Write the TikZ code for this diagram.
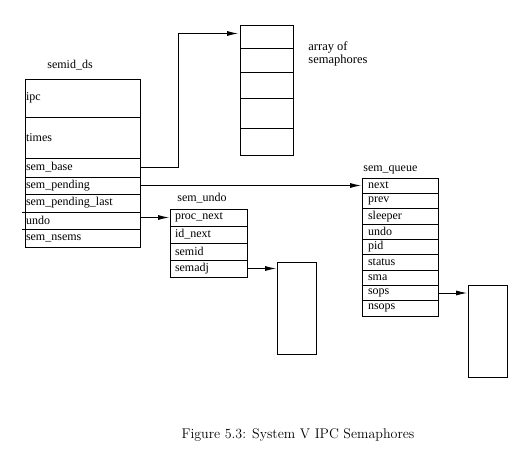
\documentclass[tikz,border=0pt]{standalone}
\usepackage{fontspec}
\newfontfamily\labelfont{Liberation Serif}
\usetikzlibrary{arrows.meta}

\tikzset{
  field/.style={draw, anchor=north west, inner ysep=0pt, outer sep=0pt, align=left,
    font=\labelfont\fontsize{12}{12}\selectfont},
  dsfield/.style={field, inner xsep=1pt, minimum width=115pt, text width=113pt},
  undofield/.style={field, inner xsep=5pt, minimum width=77pt, text width=67pt, minimum height=17pt},
  queuefield/.style={field, inner xsep=6pt, minimum width=76pt, text width=64pt, minimum height=15.33pt},
  cell/.style={draw, anchor=north west, inner sep=0pt, outer sep=0pt},
  title/.style={anchor=west, inner sep=0pt, font=\labelfont\fontsize{12}{12}\selectfont},
  >={Latex[length=11pt,width=5pt]}
}

\begin{document}
\begin{tikzpicture}[x=1pt, y=-1pt, line width=0.8pt]
  \useasboundingbox (0,0) rectangle (521,452);

  % semid_ds
  \node[title] (dstitle) at (47,65) {semid\_ds};
  \node[dsfield, minimum height=38pt] (ipc) at (25,79) {ipc};
  \node[dsfield, minimum height=41pt] (times) at (25,117) {times};
  \node[dsfield, minimum height=19pt] (sembase) at (25,158) {sem\_base};
  \node[dsfield, minimum height=17pt] (sempend) at (25,177) {sem\_pending};
  \node[dsfield, minimum height=18pt] (sempendlast) at (25,194) {sem\_pending\_last};
  \node[dsfield, minimum height=17pt] (dsundo) at (25,212) {undo};
  \node[dsfield, minimum height=18pt] (nsems) at (25,229) {sem\_nsems};
  \draw ([xshift=-3pt]dsundo.north west) -- (dsundo.north west);
  \draw ([xshift=-3pt]dsundo.south west) -- (dsundo.south west);

  % array of semaphores
  \node[cell, minimum width=53pt, minimum height=23pt] (arr1) at (240,25) {};
  \node[cell, minimum width=53pt, minimum height=24pt] (arr2) at (240,48) {};
  \node[cell, minimum width=53pt, minimum height=26pt] (arr3) at (240,72) {};
  \node[cell, minimum width=53pt, minimum height=30pt] (arr4) at (240,98) {};
  \node[cell, minimum width=53pt, minimum height=27pt] (arr5) at (240,128) {};
  \node[anchor=north west, inner sep=0pt, align=left,
    font=\labelfont\fontsize{12.5}{13}\selectfont] (arrlabel) at (308,41)
    {array of\\semaphores};

  % sem_undo
  \node[title] (undotitle) at (177,198) {sem\_undo};
  \node[undofield] (procnext) at (170,209) {proc\_next};
  \node[undofield] (idnext) at (170,226) {id\_next};
  \node[undofield] (semid) at (170,243) {semid};
  \node[undofield] (semadj) at (170,260) {semadj};
  \node[cell, minimum width=39pt, minimum height=92pt] (adjbox) at (277,262) {};

  % sem_queue
  \node[title] (queuetitle) at (363,170) {sem\_queue};
  \node[queuefield] (next) at (362,178) {next};
  \node[queuefield] (prev) at (362,193.33) {prev};
  \node[queuefield] (sleeper) at (362,208.67) {sleeper};
  \node[queuefield] (qundo) at (362,224) {undo};
  \node[queuefield] (pid) at (362,239.33) {pid};
  \node[queuefield] (status) at (362,254.67) {status};
  \node[queuefield] (sma) at (362,270) {sma};
  \node[queuefield] (sops) at (362,285.33) {sops};
  \node[queuefield] (nsops) at (362,300.67) {nsops};
  \node[cell, minimum width=39pt, minimum height=92pt] (sopsbox) at (468,285) {};

  \draw[->, shorten >=2pt] (sembase.east) -- ++(38,0) |- ([yshift=3pt]arr1.west);
  \draw[->, shorten >=1pt] (sempend.east) -- (sempend.east -| next.west);
  \draw[->, shorten >=1pt] (dsundo.east |- procnext.west) -- (procnext.west);
  \draw[->, shorten >=1pt] (semadj.east) -- (semadj.east -| adjbox.west);
  \draw[->, shorten >=1pt] (sops.east) -- (sops.east -| sopsbox.west);

  \node[font=\fontsize{14}{16}\selectfont] (caption) at (298,435)
    {Figure 5.3: System V IPC Semaphores};
\end{tikzpicture}
\end{document}
